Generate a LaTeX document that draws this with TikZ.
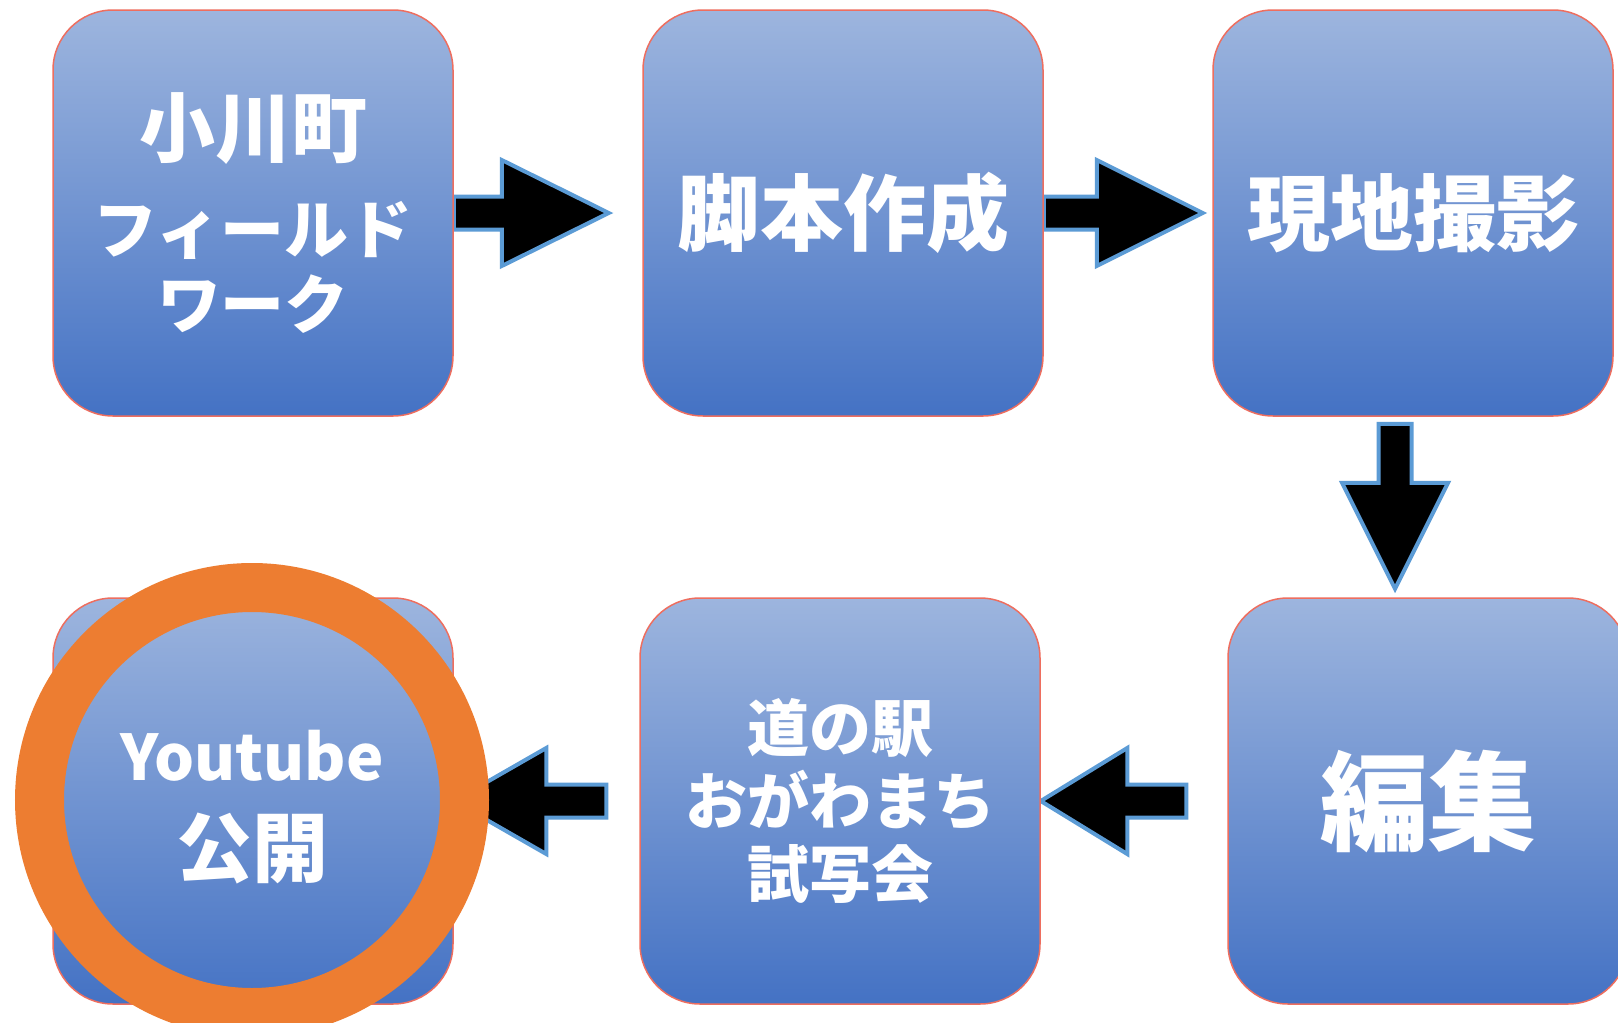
\documentclass[tikz,border=0pt]{standalone}
\usepackage{fontspec}
\setmainfont{Noto Sans CJK JP}
\usetikzlibrary{calc}
\definecolor{gtop}{RGB}{157,181,222}
\definecolor{gbot}{RGB}{68,114,196}
\definecolor{bred}{RGB}{238,110,95}
\definecolor{ablue}{RGB}{91,155,213}
\definecolor{ringc}{RGB}{237,125,49}
\pgfdeclarelayer{bg}
\pgfsetlayers{bg,main}
\tikzset{
  box/.style={draw=bred, line width=1.5pt, rounded corners=60pt, top color=gtop, bottom color=gbot,
    minimum width=400pt, minimum height=406pt, inner sep=0pt, text=white, align=center},
  blk/.style={fill=black, draw=ablue, line width=4pt, line join=miter},
  ringnode/.style={circle, draw=ringc, line width=49pt, minimum size=425pt, inner sep=0pt,
    top color=gtop, bottom color=gbot},
  wtext/.style={text=white, align=center, inner sep=0pt},
}
\begin{document}
\begin{tikzpicture}[x=1pt,y=-1pt]
\useasboundingbox (0,0) rectangle (1618,1023);
\clip (0,0) rectangle (1618,1023);
\node[box, font=\bfseries\fontsize{64}{75}\selectfont] (b1) at (253,213)
  {{\fontsize{76}{75}\selectfont 小川町}\\[22pt]フィールド\\ワーク};
\node[box, font=\bfseries\fontsize{83}{95}\selectfont] (b2) at (843,213) {脚本作成};
\node[box, font=\bfseries\fontsize{83}{95}\selectfont] (b3) at (1413,213) {現地撮影};
\node[box] (b4) at (253,801) {};
\node[box, font=\bfseries\fontsize{62}{73}\selectfont] (b5) at (840,801) {道の駅\\おがわまち\\試写会};
\node[box, font=\bfseries\fontsize{108}{120}\selectfont] (b6) at (1428,801) {編集};
\begin{pgfonlayer}{bg}
\fill[white] (0,0) rectangle (1618,1023);
% arrow b1 -> b2
\coordinate (tA) at ($(b1.east)+(155,0)$);
\draw[blk] ($(b1.east)+(0,-16.5)$) -- ++(48,0) -- ++(0,-36.5) -- (tA)
  -- ($(b1.east)+(48,53)$) -- ++(0,-36.5) -- ++(-48,0) -- cycle;
% arrow b2 -> b3
\coordinate (tB) at ($(b2.east)+(159,0)$);
\draw[blk] ($(b2.east)+(0,-16.5)$) -- ++(53,0) -- ++(0,-36.5) -- (tB)
  -- ($(b2.east)+(53,53)$) -- ++(0,-36.5) -- ++(-53,0) -- cycle;
% arrow b3 -> b6
\coordinate (c0) at ($(b3.south)+(-18,7)$);
\coordinate (tC) at ($(c0)+(0,165)$);
\draw[blk] ($(c0)+(-16.5,0)$) -- ++(0,59) -- ++(-36.5,0) -- (tC)
  -- ($(c0)+(53,59)$) -- ++(-36.5,0) -- ++(0,-59) -- cycle;
% arrow b6 -> b5
\coordinate (d0) at ($(b6.west)+(-41,0)$);
\draw[blk] ($(d0)+(0,-16.5)$) -- ++(-59,0) -- ++(0,-36.5) -- (b5.east)
  -- ($(d0)+(-59,53)$) -- ++(0,-36.5) -- ++(59,0) -- cycle;
% arrow b5 -> b4
\coordinate (e0) at ($(b5.west)+(-33,0)$);
\draw[blk] ($(e0)+(0,-16.5)$) -- ++(-60,0) -- ++(0,-36.5) -- (b4.east)
  -- ($(e0)+(-60,53)$) -- ++(0,-36.5) -- ++(60,0) -- cycle;
\end{pgfonlayer}
\node[ringnode] (c) at (252,800) {};
\node[wtext, font=\bfseries\fontsize{76}{92}\selectfont] (ct) at ($(c.center)+(0,7)$)
  {{\fontsize{63}{92}\selectfont Youtube}\\[4pt]公開};
\end{tikzpicture}
\end{document}
